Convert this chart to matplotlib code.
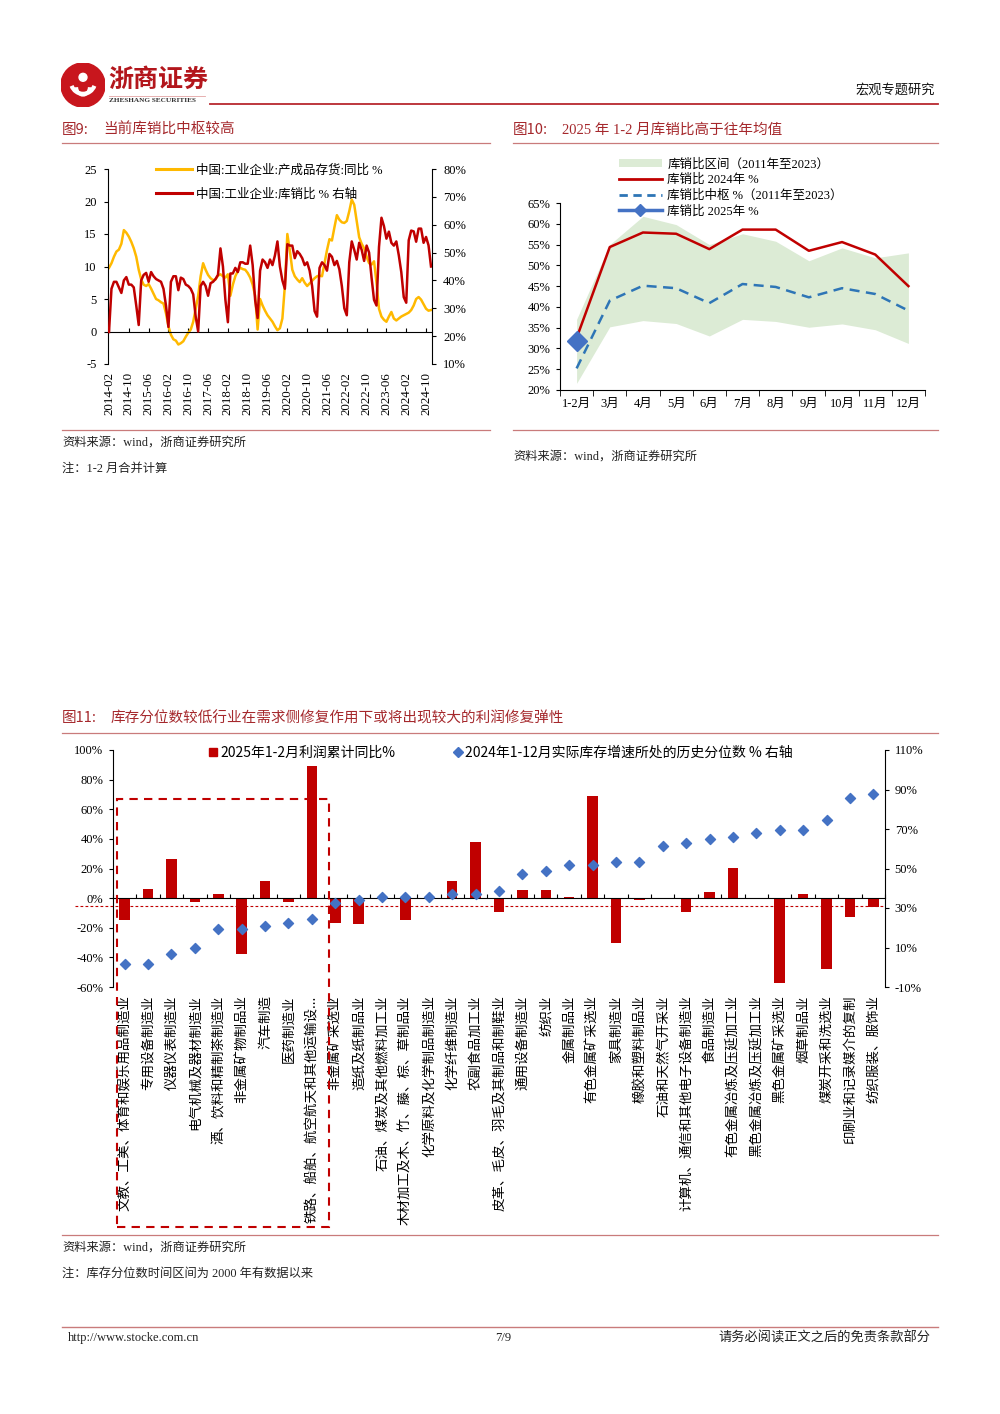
import numpy as np
import pandas as pd
import matplotlib
matplotlib.use('Agg')
import matplotlib.pyplot as plt
from matplotlib.lines import Line2D
from matplotlib.patches import Patch, Rectangle, Circle, Arc

plt.rcParams['font.family'] = ['Liberation Serif', 'Noto Sans CJK SC']
plt.rcParams['axes.unicode_minus'] = False

W, H = 1000, 1414
CJK = ['Noto Sans CJK SC', 'DejaVu Sans']
SER = ['Liberation Serif', 'Noto Sans CJK SC']
TITLE_C = '#A5282C'
RULE_C = '#C97B7B'

# ---------- fig 9: monthly, 2014-02 .. 2024-12 ----------
months = pd.date_range('2014-02-01', '2024-12-01', freq='MS').strftime('%Y-%m').tolist()
inv_yoy = [
    9.8, 10.5, 11.5, 12.3, 12.6, 13.5, 15.6, 15.2, 14.6, 13.8, 12.8,
    11.5, 9.5, 8.0, 7.2, 7.0, 7.3, 6.6, 5.8, 5.0, 4.8, 4.5, 4.3,
    2.8, 0.8, -0.5, -1.2, -1.4, -2.0, -1.8, -1.5, -0.8, -0.2, 0.3, 1.5,
    3.5, 5.5, 8.5, 10.5, 9.5, 8.7, 8.2, 7.9, 8.0, 8.6, 8.8, 8.5,
    8.3, 8.8, 5.5, 7.2, 8.5, 9.3, 9.8, 9.6, 9.5, 9.0, 8.3, 7.2,
    5.5, 0.3, 5.0, 4.0, 3.2, 2.5, 2.0, 1.5, 0.8, 0.2, 0.5, 2.0,
    7.0, 15.0, 12.5, 9.5, 8.5, 8.0, 7.6, 8.2, 7.5, 7.0, 7.4, 7.8,
    8.2, 8.5, 8.6, 8.5, 10.5, 12.5, 14.2, 14.0, 16.0, 17.9, 17.2, 16.8,
    16.7, 17.0, 18.5, 20.3, 19.5, 17.0, 14.5, 13.5, 12.8, 11.5, 10.5, 10.3,
    10.8, 7.5, 3.5, 2.3, 1.8, 1.5, 2.3, 3.0, 2.0, 1.7, 2.0, 2.3,
    2.5, 2.7, 2.9, 3.3, 4.0, 5.0, 5.3, 4.9, 4.2, 3.5, 3.2, 3.3,
]
stock_sales = [
    21.5, 37, 39.5, 39.5, 37.5, 35.5, 40, 41.2, 38.5, 38.5, 37.5,
    31, 24, 40, 42, 42.7, 39.5, 43, 41.5, 40.5, 40, 39.5, 37,
    31, 23.3, 39.5, 41.5, 41.5, 36.5, 41, 40.5, 38.5, 38, 37, 35,
    27, 21.7, 38, 39.5, 38, 34.5, 39, 39.5, 40.5, 42, 51.5, 45,
    33, 25, 42.5, 42.5, 44.5, 43, 46.5, 46.5, 46, 46, 52.5, 45.5,
    33, 26.5, 43.5, 47.5, 46.5, 44.5, 47.5, 45.5, 49, 54, 45, 40,
    37, 53, 52.5, 52.5, 48, 50.5, 49.5, 48, 45.5, 46.5, 43.5, 38,
    29, 27, 44.5, 46.5, 45.5, 43.5, 49.5, 48.5, 45.5, 47, 44, 38,
    30, 27.5, 46.5, 54, 51, 47.5, 53.5, 51, 47, 52.5, 50, 41,
    33, 31, 52, 62.5, 59.5, 55, 57.5, 53.5, 52.5, 54, 49, 43,
    34, 32, 54.4, 57.9, 57.6, 53.9, 58.6, 58.6, 53.5, 55.6, 52.6, 45,
]

# ---------- fig 10 ----------
cats10 = ['1-2月', '3月', '4月', '5月', '6月', '7月', '8月', '9月', '10月', '11月', '12月']
band_low = [21.6, 35.2, 36.7, 36.0, 33.0, 37.0, 36.5, 35.1, 35.9, 34.5, 31.2]
band_high = [37.0, 55.0, 61.8, 59.8, 55.0, 57.6, 55.8, 51.1, 54.2, 51.8, 53.0]
ratio_2024 = [32.5, 54.4, 57.9, 57.6, 53.9, 58.6, 58.6, 53.5, 55.6, 52.6, 45.0]
ratio_mid = [25.2, 41.5, 45.1, 44.5, 40.9, 45.5, 44.8, 42.3, 44.5, 43.1, 39.1]
ratio_2025 = [31.7]

# ---------- fig 11 ----------
industries = [
    '文教、工美、体育和娱乐用品制造业', '专用设备制造业', '仪器仪表制造业', '电气机械及器材制造业',
    '酒、饮料和精制茶制造业', '非金属矿物制品业', '汽车制造', '医药制造业',
    '铁路、船舶、航空航天和其他运输设...', '非金属矿采选业', '造纸及纸制品业',
    '石油、煤炭及其他燃料加工业', '木材加工及木、竹、藤、棕、草制品业', '化学原料及化学制品制造业',
    '化学纤维制造业', '农副食品加工业', '皮革、毛皮、羽毛及其制品和制鞋业', '通用设备制造业',
    '纺织业', '金属制品业', '有色金属矿采选业', '家具制造业', '橡胶和塑料制品业',
    '石油和天然气开采业', '计算机、通信和其他电子设备制造业', '食品制造业',
    '有色金属冶炼及压延加工业', '黑色金属冶炼及压延加工业', '黑色金属矿采选业', '烟草制品业',
    '煤炭开采和洗选业', '印刷业和记录媒介的复制', '纺织服装、服饰业',
]
profit = [-14.5, 5.9, 26.7, -2.5, 2.9, -37.7, 11.8, -2.5, 89.0, -16.9, -17.6,
          0.0, -14.5, 0.3, 11.3, 37.7, -9.5, 5.8, 5.5, 1.0, 69.0, -30.0, -1.0,
          -0.8, -9.6, 4.4, 20.4, 0.2, -57.0, 3.0, -47.6, -13.0, -5.8]
pct = [1.5, 1.5, 6.6, 9.6, 19.2, 19.2, 20.9, 22.6, 24.3, 32.3, 34.0,
       35.5, 35.5, 35.5, 37.2, 37.2, 38.8, 47.0, 48.5, 51.7, 51.7, 53.2, 53.2,
       61.5, 63.0, 64.7, 66.2, 67.9, 69.6, 69.6, 74.5, 85.7, 87.5]

fig = plt.figure(figsize=(10, 14.14), dpi=100)


def fx(x):
    return x / W


def fy(y):
    return 1 - y / H


def rule(x0, x1, y, color=RULE_C, lw=0.9):
    fig.add_artist(Line2D([fx(x0), fx(x1)], [fy(y), fy(y)], color=color, lw=lw,
                          transform=fig.transFigure))


def txt(x, y, s, size=9, color='#222222', family=SER, **kw):
    fig.text(fx(x), fy(y), s, fontsize=size, color=color, family=family, va='center', **kw)


# ---------- header ----------
lax = fig.add_axes([fx(61), fy(107), 44 / W, 44 / H])
lax.set_xlim(-1, 1)
lax.set_ylim(-1, 1)
lax.set_aspect('equal')
lax.axis('off')
lax.add_patch(Circle((0, 0), 1, color='#C8161D'))
lax.add_patch(Arc((0, 0.15), 1.1, 1.1, theta1=200, theta2=340, color='white', lw=3))
lax.add_patch(Arc((0, -0.1), 0.6, 0.7, theta1=180, theta2=360, color='white', lw=2.5))
lax.add_patch(Circle((0, 0.35), 0.18, color='white'))
txt(108, 80, '浙商证券', size=18, color='#B3161C', family=CJK, fontweight='bold')
txt(109, 101, 'ZHESHANG SECURITIES', size=5.2, color='#333333', fontweight='bold')
rule(109, 205, 95.5, color='#E3A3A3', lw=0.6)
rule(210, 938, 103.5, color='#B8282E', lw=1.3)
txt(935, 90, '宏观专题研究', size=9.5, color='#111111', family=CJK, ha='right')

# ---------- titles & rules ----------
txt(62, 130, '图9:', size=10.5, color=TITLE_C, family=CJK)
txt(103, 130, '当前库销比中枢较高', size=10.5, color=TITLE_C, family=CJK)
rule(62, 490, 143)
txt(513, 130, '图10:', size=10.5, color=TITLE_C, family=CJK)
txt(562, 130, '2025 年 1-2 月库销比高于往年均值', size=10.5, color=TITLE_C, family=SER)
rule(513, 938, 143)
rule(62, 490, 430)
rule(513, 938, 430)
txt(62, 443, '资料来源：wind，浙商证券研究所', size=8.8)
txt(62, 469, '注：1-2 月合并计算', size=8.8)
txt(513, 457, '资料来源：wind，浙商证券研究所', size=8.8)

txt(62, 718, '图11:', size=10.5, color=TITLE_C, family=CJK)
txt(111, 718, '库存分位数较低行业在需求侧修复作用下或将出现较大的利润修复弹性',
    size=10.5, color=TITLE_C, family=CJK)
rule(62, 938, 733)
rule(62, 938, 1235)
txt(62, 1248, '资料来源：wind，浙商证券研究所', size=8.8)
txt(62, 1274, '注：库存分位数时间区间为 2000 年有数据以来', size=8.8)

rule(62, 938, 1327, lw=1.0)
txt(68, 1338, 'http://www.stocke.com.cn', size=9)
txt(503, 1338, '7/9', size=9, ha='center')
txt(930, 1338, '请务必阅读正文之后的免责条款部分', size=9.5, family=CJK, ha='right')

# ---------- fig 9 chart ----------
ax1 = fig.add_axes([fx(108), fy(364), (432 - 108) / W, (364 - 169) / H])
t = np.arange(len(months))
ax1.plot(t, inv_yoy, color='#FFB900', lw=1.8)
ax1.set_xlim(-0.4, len(t) - 0.6)
ax1.set_ylim(-5, 25)
ax1.set_yticks(range(-5, 26, 5))
ax1.spines['top'].set_visible(False)
ax1.spines['right'].set_visible(False)
ax1.spines['bottom'].set_position(('data', 0))
ax1.set_xticks(t[::8])
ax1.tick_params(axis='x', direction='in', length=3, labelbottom=False)
ax1.tick_params(axis='y', direction='out', length=3, labelsize=9, pad=5)
sec1 = ax1.secondary_xaxis(0)
sec1.set_ticks(t[::8], labels=months[::8], fontsize=9.3)
sec1.tick_params(length=0, labelrotation=90, pad=6)
sec1.spines['bottom'].set_visible(False)

ax1b = ax1.twinx()
ax1b.plot(t, stock_sales, color='#C00000', lw=1.8)
ax1b.set_ylim(10, 80)
ax1b.set_yticks(range(10, 81, 10))
ax1b.set_yticklabels([f'{v}%' for v in range(10, 81, 10)])
ax1b.tick_params(axis='y', direction='out', length=3, labelsize=9, pad=5)
for s in ['top', 'left', 'bottom']:
    ax1b.spines[s].set_visible(False)
h9 = [Line2D([], [], color='#FFB900', lw=2.2), Line2D([], [], color='#C00000', lw=2.2)]
ax1b.legend(h9, ['中国:工业企业:产成品存货:同比 %', '中国:工业企业:库销比 % 右轴'],
            loc='upper left', bbox_to_anchor=(fx(156), fy(164)), bbox_transform=fig.transFigure,
            frameon=False, borderpad=0, borderaxespad=0, handlelength=2.9, handletextpad=0.3,
            labelspacing=0.95, prop={'family': SER, 'size': 9})

# ---------- fig 10 chart ----------
ax2 = fig.add_axes([fx(560), fy(390), (925 - 560) / W, (390 - 203) / H])
xm = np.arange(len(cats10))
ax2.fill_between(xm, band_low, band_high, color='#DCEBD5', lw=0)
ax2.plot(xm, ratio_2024, color='#C00000', lw=1.8)
ax2.plot(xm, ratio_mid, color='#2E75B6', lw=1.8, ls=(0, (4, 2.6)))
ax2.plot(xm[:len(ratio_2025)], ratio_2025, color='#4472C4', marker='D', ms=10.5, lw=2.5)
ax2.set_xlim(-0.5, len(xm) - 0.5)
ax2.set_ylim(20, 65)
ax2.set_yticks(range(20, 66, 5))
ax2.set_yticklabels([f'{v}%' for v in range(20, 66, 5)])
ax2.set_xticks(xm)
ax2.set_xticklabels(cats10)
ax2.set_xticks(np.arange(-0.5, len(xm), 1), minor=True)
ax2.tick_params(axis='x', which='major', length=0, labelsize=9, pad=6)
ax2.tick_params(axis='x', which='minor', direction='out', length=4)
ax2.tick_params(axis='y', direction='out', length=3, labelsize=9, pad=4)
ax2.spines['top'].set_visible(False)
ax2.spines['right'].set_visible(False)
h10 = [Patch(facecolor='#DCEBD5', edgecolor='none'),
       Line2D([], [], color='#C00000', lw=2),
       Line2D([], [], color='#2E75B6', lw=2, ls=(0, (3, 2))),
       Line2D([], [], color='#4472C4', lw=2.5, marker='D', ms=6)]
ax2.legend(h10, ['库销比区间（2011年至2023）', '库销比 2024年 %', '库销比中枢 %（2011年至2023）', '库销比 2025年 %'],
           loc='upper left', bbox_to_anchor=(fx(619), fy(158)), bbox_transform=fig.transFigure,
           frameon=False, borderpad=0, borderaxespad=0, handlelength=3.4, handletextpad=0.45,
           labelspacing=0.28, prop={'family': SER, 'size': 9})

# ---------- fig 11 chart ----------
ax3 = fig.add_axes([fx(113), fy(987), (885 - 113) / W, (987 - 750) / H])
xi = np.arange(len(industries))
ax3.bar(xi, profit, width=0.45, color='#C00000', zorder=2)
ax3.set_xlim(-0.5, len(xi) - 0.5)
ax3.set_ylim(-60, 100)
ax3.set_yticks(range(-60, 101, 20))
ax3.set_yticklabels([f'{v}%' for v in range(-60, 101, 20)])
ax3.tick_params(axis='y', direction='out', length=3, labelsize=9, pad=4)
ax3.spines['top'].set_visible(False)
ax3.spines['right'].set_visible(False)
ax3.spines['bottom'].set_position(('data', 0))
ax3.set_xticks(np.arange(-0.5, len(xi), 1))
ax3.tick_params(axis='x', direction='in', length=3, labelbottom=False)
ax3.axhline(-5, xmin=-0.049, xmax=1, color='#C00000', lw=0.8, ls=(0, (2.5, 2)), clip_on=False)
sec3 = ax3.secondary_xaxis(0)
sec3.set_ticks(xi, labels=industries, fontsize=9.7, family=CJK)
sec3.tick_params(length=0, labelrotation=90, pad=6)
sec3.spines['bottom'].set_visible(False)

ax4 = ax3.twinx()
ax4.scatter(xi, pct, marker='D', s=26, color='#4472C4', zorder=3)
ax4.set_ylim(-10, 110)
ax4.set_yticks(range(-10, 111, 20))
ax4.set_yticklabels([f'{v}%' for v in range(-10, 111, 20)])
ax4.tick_params(axis='y', direction='out', length=3, labelsize=9, pad=4)
for s in ['top', 'left', 'bottom']:
    ax4.spines[s].set_visible(False)
h11 = [Line2D([], [], ls='none', marker='s', ms=5.5, color='#C00000'),
       Line2D([], [], ls='none', marker='D', ms=5, color='#4472C4')]
ax4.legend(h11, ['2025年1-2月利润累计同比%', '2024年1-12月实际库存增速所处的历史分位数 % 右轴'],
           ncol=2, loc='upper left', bbox_to_anchor=(fx(209), fy(746)), bbox_transform=fig.transFigure,
           frameon=False, borderpad=0, borderaxespad=0, handlelength=0.6, handletextpad=0.2,
           columnspacing=4.2, prop={'family': CJK, 'size': 10})

fig.add_artist(Rectangle((fx(117), fy(1227)), (329 - 117) / W, (1227 - 799) / H,
                         transform=fig.transFigure, fill=False, ec='#C00000', lw=1.5,
                         ls=(0, (4, 3))))

for a in [ax1, ax1b, ax2, ax3, ax4]:
    for sp in a.spines.values():
        sp.set_linewidth(0.8)

fig.savefig('out.png', dpi=100, facecolor='white')
